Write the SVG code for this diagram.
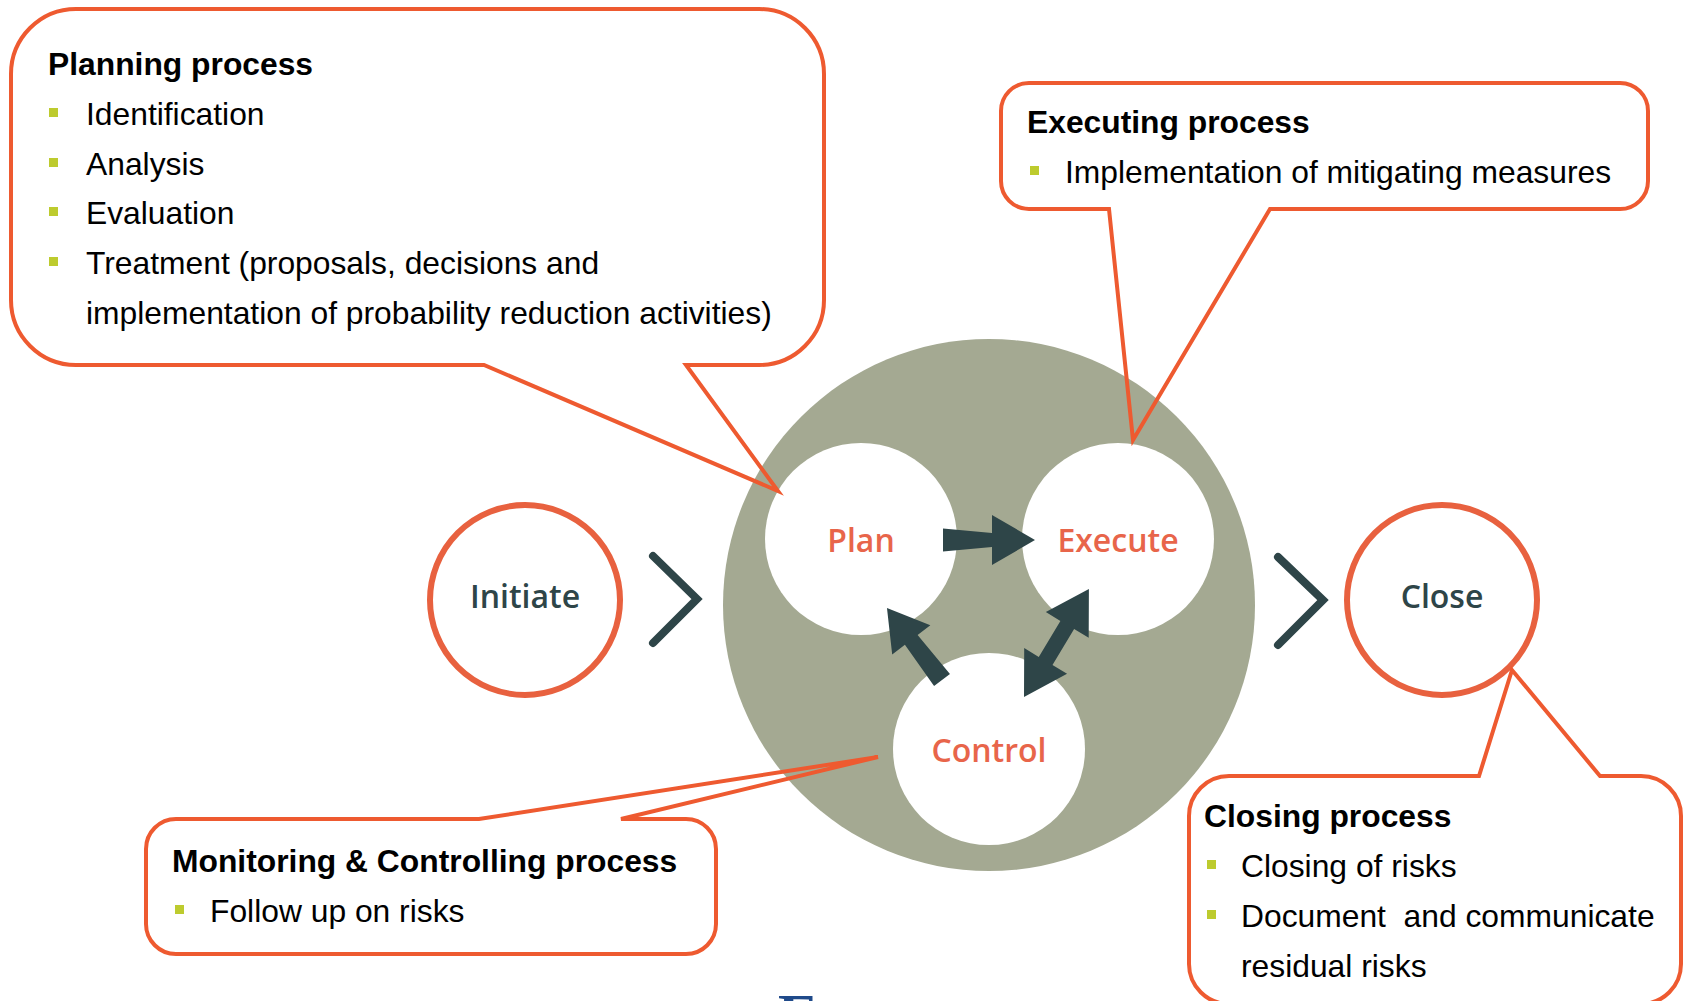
<svg xmlns="http://www.w3.org/2000/svg" width="1684" height="1001" viewBox="0 0 1684 1001">
<style>
.h{font-family:"Liberation Sans",Arial,sans-serif;font-weight:bold;font-size:31.8px;fill:#000}
.b{font-family:"Liberation Sans",Arial,sans-serif;font-size:31.8px;fill:#000}
.bul{fill:#BDCB2E}
.call{fill:none;stroke:#EE5A30;stroke-width:4;stroke-linejoin:miter}
.lbl{font-family:"Open Sans",Lato,sans-serif;font-weight:600;font-size:32px;text-anchor:middle}
.or{fill:#E8654A}
.dk{fill:#2E4548}
.ring{fill:#fff;stroke:#E8613F;stroke-width:6}
.inner{fill:#fff}
.chev{fill:none;stroke:#2E4548;stroke-width:8;stroke-linecap:round;stroke-linejoin:miter}
.arr{fill:#2E4548}
</style>
<rect width="1684" height="1001" fill="#fff"/>

<g id="cycle">
  <circle cx="989" cy="605" r="266" fill="#A4A992"/>
</g>
<g id="plan">
  <circle class="inner" cx="861" cy="539" r="96"/>
  <text class="lbl or" x="861" y="552">Plan</text>
</g>
<g id="execute">
  <circle class="inner" cx="1118" cy="539" r="96"/>
  <text class="lbl or" x="1118" y="552">Execute</text>
</g>
<g id="control">
  <circle class="inner" cx="989" cy="749" r="96"/>
  <text class="lbl or" x="989" y="762">Control</text>
</g>
<g id="initiate">
  <circle class="ring" cx="525" cy="600" r="95"/>
  <text class="lbl dk" x="525" y="608">Initiate</text>
</g>
<g id="close">
  <circle class="ring" cx="1442" cy="600" r="95"/>
  <text class="lbl dk" x="1442" y="608">Close</text>
</g>

<g id="connectors">
  <polyline class="chev" points="653,556 697,599 653,643"/>
  <polyline class="chev" points="1278,557 1323,600 1278,645"/>
  <polygon class="arr" points="943,528.5 992,533 992,515 1035,540 992,565 992,547 943,551.5"/>
  <polygon class="arr" transform="translate(942,680) rotate(-127.4)" points="0,-10 50.6,-8 50.6,-24 90.6,0 50.6,24 50.6,8 0,10"/>
  <polygon class="arr" transform="translate(1024,697) rotate(-59)" points="0,0 42,-25 42,-8 84,-8 84,-25 126,0 84,25 84,8 42,8 42,25"/>
</g>

<g id="planning-callout">
  <path class="call" d="M76,9 H759 A65 65 0 0 1 824 74 V300 A65 65 0 0 1 759 365 H686 L778 491 L484 365 H76 A65 65 0 0 1 11 300 V74 A65 65 0 0 1 76 9 Z"/>
  <text class="h" x="48" y="75">Planning process</text>
  <rect class="bul" x="49" y="108" width="9" height="9"/>
  <text class="b" x="86" y="125">Identification</text>
  <rect class="bul" x="49" y="158" width="9" height="9"/>
  <text class="b" x="86" y="175">Analysis</text>
  <rect class="bul" x="49" y="207" width="9" height="9"/>
  <text class="b" x="86" y="224">Evaluation</text>
  <rect class="bul" x="49" y="257" width="9" height="9"/>
  <text class="b" x="86" y="274">Treatment (proposals, decisions and</text>
  <text class="b" x="86" y="324">implementation of probability reduction activities)</text>
</g>

<g id="executing-callout">
  <path class="call" d="M1029,83 H1620 A28 28 0 0 1 1648 111 V181 A28 28 0 0 1 1620 209 H1270 L1133 440 L1109 209 H1029 A28 28 0 0 1 1001 181 V111 A28 28 0 0 1 1029 83 Z"/>
  <text class="h" x="1027" y="133">Executing process</text>
  <rect class="bul" x="1030" y="166" width="9" height="9"/>
  <text class="b" x="1065" y="183">Implementation of mitigating measures</text>
</g>

<g id="monitoring-callout">
  <path class="call" d="M176,819 H479 L878,757 L621,819 H686 A30 30 0 0 1 716 849 V924 A30 30 0 0 1 686 954 H176 A30 30 0 0 1 146 924 V849 A30 30 0 0 1 176 819 Z"/>
  <text class="h" x="172" y="872">Monitoring &amp; Controlling process</text>
  <rect class="bul" x="175" y="905" width="9" height="9"/>
  <text class="b" x="210" y="922">Follow up on risks</text>
</g>

<g id="closing-callout">
  <path class="call" d="M1229,776 H1479 L1512,670 L1600,776 H1641 A40 40 0 0 1 1681 816 V964 A40 40 0 0 1 1641 1004 H1229 A40 40 0 0 1 1189 964 V816 A40 40 0 0 1 1229 776 Z"/>
  <text class="h" x="1204" y="827">Closing process</text>
  <rect class="bul" x="1207" y="860" width="9" height="9"/>
  <text class="b" x="1241" y="877">Closing of risks</text>
  <rect class="bul" x="1207" y="910" width="9" height="9"/>
  <text class="b" x="1241" y="927" style="white-space:pre">Document  and communicate</text>
  <text class="b" x="1241" y="977">residual risks</text>
</g>

<g id="logo">
  <text x="778" y="1035" font-family="'Liberation Serif',serif" font-weight="bold" font-size="60" fill="#1F4A8A">E</text>
</g>
</svg>
